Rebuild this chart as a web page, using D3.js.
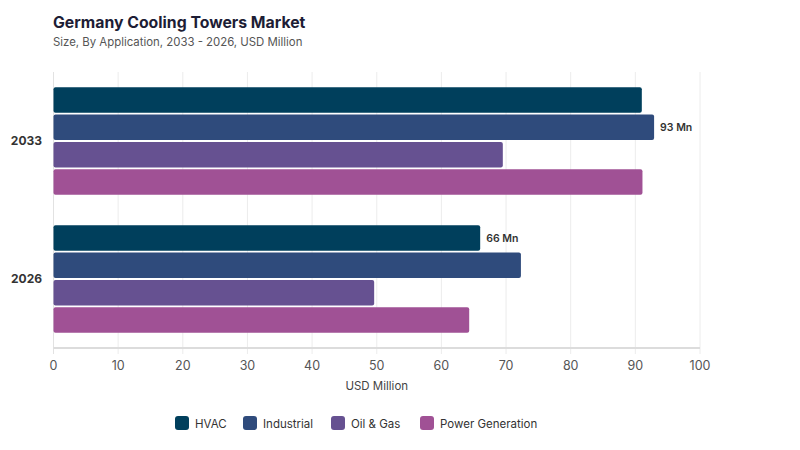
<!DOCTYPE html>
<html>
<head>
<meta charset="utf-8">
<script src="https://cdn.jsdelivr.net/npm/d3@7"></script>
<style>
  body { margin: 0; background: #fff; }
  svg { font-family: Inter, "Noto Sans", sans-serif; }
</style>
</head>
<body>
<svg id="chart" width="800" height="450"></svg>
<script>
// data
var years = ["2033", "2026"];
var segments = ["HVAC", "Industrial", "Oil & Gas", "Power Generation"];
var colors = ["#003f5c", "#2f4b7c", "#665191", "#a05195"];
var values = {
    "2033": [91, 92.9, 69.5, 91.1],
    "2026": [66, 72.3, 49.6, 64.3]
};
var labels = { "2033": "Industrial", "2026": "HVAC" }; // which bar carries the "Mn" label
var xTicks = [0, 10, 20, 30, 40, 50, 60, 70, 80, 90, 100];

var margin = { left: 53.5, right: 100, top: 72, bottom: 102 };
var W = 800, H = 450;
var svg = d3.select("#chart");

var x = d3.scaleLinear().domain([0, 100]).range([margin.left, W - margin.right]);
var y0 = d3.scaleBand().domain(years).range([margin.top, H - margin.bottom]).paddingInner(0.22).paddingOuter(0.11);
var y1 = d3.scaleBand().domain(segments).range([0, y0.bandwidth()]).paddingInner(0.07).paddingOuter(0);

// title
svg.append("text").attr("x", 53).attr("y", 28)
    .attr("font-size", 15.8).attr("font-weight", 700).attr("fill", "#1d1d35")
    .text("Germany Cooling Towers Market");
svg.append("text").attr("x", 53).attr("y", 46)
    .attr("font-size", 11.4).attr("fill", "#555")
    .text("Size, By Application, 2033 - 2026, USD Million");

// grid
svg.append("g").selectAll("line")
    .data(xTicks.slice(1))
    .enter().append("line")
    .attr("x1", function(d) { return x(d); })
    .attr("x2", function(d) { return x(d); })
    .attr("y1", margin.top)
    .attr("y2", H - margin.bottom + 6)
    .attr("stroke", "#ececec").attr("stroke-width", 1);

// left axis line
svg.append("line")
    .attr("x1", x(0)).attr("x2", x(0))
    .attr("y1", margin.top).attr("y2", H - margin.bottom + 6)
    .attr("stroke", "#e2e2e2").attr("stroke-width", 1);

// bottom axis line
svg.append("line")
    .attr("x1", x(0)).attr("x2", x(100))
    .attr("y1", H - margin.bottom).attr("y2", H - margin.bottom)
    .attr("stroke", "#dcdcdc").attr("stroke-width", 2);

// x ticks
svg.append("g").selectAll("text")
    .data(xTicks)
    .enter().append("text")
    .attr("x", function(d) { return x(d); })
    .attr("y", H - margin.bottom + 22)
    .attr("text-anchor", "middle")
    .attr("font-size", 12.5).attr("fill", "#555")
    .text(function(d) { return d; });

svg.append("text")
    .attr("x", (x(0) + x(100)) / 2).attr("y", H - margin.bottom + 42)
    .attr("text-anchor", "middle").attr("font-size", 11.5).attr("fill", "#444")
    .text("USD Million");

// year labels
svg.append("g").selectAll("text")
    .data(years)
    .enter().append("text")
    .attr("x", 42)
    .attr("y", function(d) { return y0(d) + y0.bandwidth() / 2 + 4; })
    .attr("text-anchor", "end")
    .attr("font-size", 12).attr("font-weight", 700).attr("fill", "#333")
    .text(function(d) { return d; });

// bars
var groups = svg.append("g").selectAll("g")
    .data(years)
    .enter().append("g")
    .attr("transform", function(d) { return "translate(0," + y0(d) + ")"; });

groups.selectAll("rect")
    .data(function(yr) {
        return segments.map(function(s, i) { return { year: yr, seg: s, val: values[yr][i], i: i }; });
    })
    .enter().append("rect")
    .attr("x", x(0))
    .attr("y", function(d) { return y1(d.seg); })
    .attr("width", function(d) { return x(d.val) - x(0); })
    .attr("height", y1.bandwidth())
    .attr("rx", 2)
    .attr("fill", function(d) { return colors[d.i]; });

groups.selectAll("text")
    .data(function(yr) {
        var i = segments.indexOf(labels[yr]);
        return [{ seg: labels[yr], val: values[yr][i] }];
    })
    .enter().append("text")
    .attr("x", function(d) { return x(d.val) + 6; })
    .attr("y", function(d) { return y1(d.seg) + y1.bandwidth() / 2 + 4; })
    .attr("font-size", 10.5).attr("font-weight", 600).attr("fill", "#333")
    .text(function(d) { return Math.round(d.val) + " Mn"; });

// legend
var legendX = [175, 243, 331, 420];
var legend = svg.append("g").selectAll("g")
    .data(segments)
    .enter().append("g")
    .attr("transform", function(d, i) { return "translate(" + legendX[i] + ",416)"; });
legend.append("rect")
    .attr("width", 14).attr("height", 14).attr("rx", 3)
    .attr("fill", function(d, i) { return colors[i]; });
legend.append("text")
    .attr("x", 20).attr("y", 11.5)
    .attr("font-size", 11.5).attr("fill", "#333")
    .text(function(d) { return d; });
</script>
</body>
</html>
